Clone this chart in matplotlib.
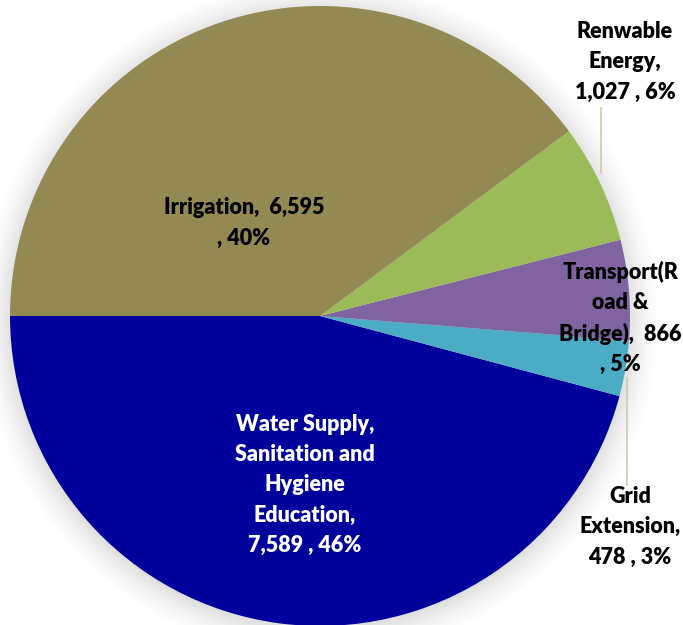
import numpy as np
import matplotlib.pyplot as plt

# slice data, drawn counter-clockwise starting from the left (180 deg)
categories = ['Water Supply,\nSanitation and\nHygiene\nEducation,\n', 'Grid\nExtension,\n',
              'Transport(R\noad &\nBridge),  ', 'Renwable\nEnergy,\n', 'Irrigation,  ']
values = [7589, 478, 866, 1027, 6595]
value_text = ['7,589', '478', '866', '1,027', '6,595']
pct_text = ['46%', '3%', '5%', '6%', '40%']
pct_sep = [' , ', ' , ', '\n, ', ' , ', '\n, ']
colors = ['#00009c', '#4bacc6', '#8064a2', '#9bbb59', '#938953']

plt.rcParams['font.family'] = ['Lato', 'DejaVu Sans']

fig = plt.figure(figsize=(6.83, 6.25), dpi=100)
ax = fig.add_axes([0, 0, 1, 1])
ax.axis('off')

# soft glow behind the pie
for r, a in zip(np.linspace(1.09, 1.0, 10), np.linspace(0.01, 0.05, 10)):
    ax.add_patch(plt.Circle((0.0, -0.01), r, color='#9a9a9a', alpha=a, lw=0, zorder=0))

wedges, _ = ax.pie(values, colors=colors, startangle=180, counterclock=True,
                   radius=1.0, wedgeprops=dict(linewidth=0))
for w in wedges:
    w.set_zorder(2)

# label layout (data units, radius = 1)
lab_pos = [(-0.048, -0.545), (1.0, -0.68), (0.968, -0.006), (0.984, 0.82), (-0.245, 0.30)]
txt_col = ['white', 'black', 'black', 'black', 'black']
for i, (x, y) in enumerate(lab_pos):
    s = categories[i] + value_text[i] + pct_sep[i] + pct_text[i]
    ax.text(x, y, s, ha='center', va='center', fontsize=15.5, fontweight='heavy',
            color=txt_col[i], linespacing=1.55, zorder=5)

# leader lines
ax.plot([0.906, 0.906], [0.671, 0.46], color='#d2c9a8', lw=1.2, zorder=3)
ax.plot([0.99, 0.99], [-0.2, -0.545], color='#d2c9a8', lw=1.2, zorder=3)

ax.set_xlim(-320 / 310, 363 / 310)
ax.set_ylim(-309 / 310, 316 / 310)
ax.set_aspect('auto')

fig.savefig('out.png', dpi=100, facecolor='white')
